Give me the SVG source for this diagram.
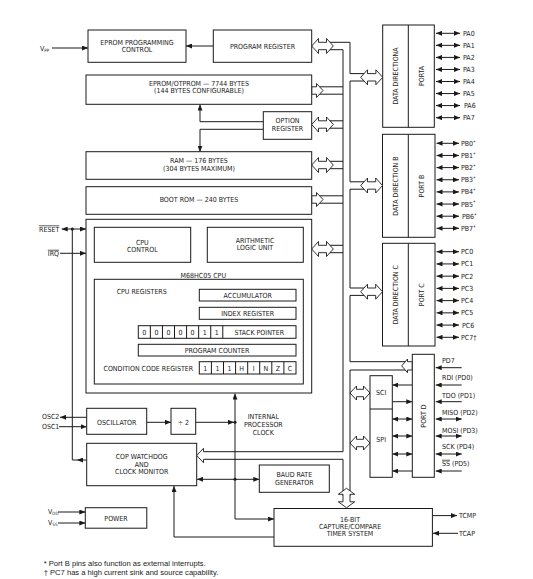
<svg xmlns="http://www.w3.org/2000/svg" width="533" height="579" viewBox="0 0 533 579">
<style>
.b{fill:#fff;stroke:#1a1a1a;stroke-width:1}
.l{fill:none;stroke:#1a1a1a;stroke-width:1}
.h{fill:#fff;stroke:#1a1a1a;stroke-width:0.9}
.d{fill:#1a1a1a}
text{font-family:"Liberation Sans Narrow","Arial Narrow","DejaVu Sans Condensed","Liberation Sans",sans-serif;font-size:7px;fill:#1a1a1a}
.c{text-anchor:middle}
.e{text-anchor:end}
.fn{font-family:"Liberation Sans",Arial,sans-serif;font-size:7.6px}
.ov{text-decoration:overline}
</style>
<defs>
<marker id="a" viewBox="0 0 6 5" refX="6" refY="2.5" markerWidth="6" markerHeight="5" markerUnits="userSpaceOnUse" orient="auto-start-reverse"><path d="M0,0 L6,2.5 L0,5 z" fill="#1a1a1a"/></marker>
</defs>
<rect x="0" y="0" width="533" height="579" fill="#fff"/>

<g id="connectors">
<g class="l" marker-end="url(#a)">
<line x1="52" y1="48" x2="88" y2="48"/>
<line x1="213.3" y1="46" x2="186" y2="46"/>
<path d="M263.3,121.7 H200 V104.5"/>
<path d="M263.3,129.3 H200 V151.7"/>
<line x1="61.7" y1="229" x2="86" y2="229" marker-start="url(#a)"/>
<line x1="60" y1="253.3" x2="86" y2="253.3"/>
<line x1="86.7" y1="417.3" x2="60" y2="417.3"/>
<line x1="59" y1="426.7" x2="86.7" y2="426.7"/>
<line x1="86.7" y1="460" x2="77" y2="460"/>
<line x1="146.7" y1="422.3" x2="171" y2="422.3"/>
<line x1="195.7" y1="422.3" x2="234" y2="422.3"/>
<path d="M274,519 H235 V393.5" marker-start="url(#a)"/>
<line x1="197" y1="479.3" x2="259.3" y2="479.3" marker-start="url(#a)"/>
<path d="M274,537 H174 V486"/>
<line x1="58" y1="512" x2="85.3" y2="512"/>
<line x1="58" y1="523" x2="85.3" y2="523"/>
<line x1="432.4" y1="515.6" x2="457" y2="515.6"/>
<line x1="458" y1="533.3" x2="433" y2="533.3"/>
</g>
<path class="l" d="M72.3,229 V460 H77"/>
<circle class="d" cx="72.3" cy="229" r="1.5"/>
<circle class="d" cx="235" cy="422.3" r="1.5"/>
<circle class="d" cx="235" cy="479.3" r="1.5"/>

<!-- port pins -->
<g class="l" marker-start="url(#a)" marker-end="url(#a)">
<line x1="436" y1="33.3" x2="460" y2="33.3"/>
<line x1="436" y1="45.35" x2="460" y2="45.35"/>
<line x1="436" y1="57.4" x2="460" y2="57.4"/>
<line x1="436" y1="69.45" x2="460" y2="69.45"/>
<line x1="436" y1="81.5" x2="460" y2="81.5"/>
<line x1="436" y1="93.55" x2="460" y2="93.55"/>
<line x1="436" y1="105.6" x2="460" y2="105.6"/>
<line x1="436" y1="117.65" x2="460" y2="117.65"/>
<line x1="436.5" y1="143.3" x2="459" y2="143.3"/>
<line x1="436.5" y1="155.45" x2="459" y2="155.45"/>
<line x1="436.5" y1="167.6" x2="459" y2="167.6"/>
<line x1="436.5" y1="179.75" x2="459" y2="179.75"/>
<line x1="436.5" y1="191.9" x2="459" y2="191.9"/>
<line x1="436.5" y1="204.05" x2="459" y2="204.05"/>
<line x1="436.5" y1="216.2" x2="459" y2="216.2"/>
<line x1="436.5" y1="228.35" x2="459" y2="228.35"/>
<line x1="436.5" y1="251.7" x2="459" y2="251.7"/>
<line x1="436.5" y1="263.93" x2="459" y2="263.93"/>
<line x1="436.5" y1="276.16" x2="459" y2="276.16"/>
<line x1="436.5" y1="288.39" x2="459" y2="288.39"/>
<line x1="436.5" y1="300.62" x2="459" y2="300.62"/>
<line x1="436.5" y1="312.85" x2="459" y2="312.85"/>
<line x1="436.5" y1="325.08" x2="459" y2="325.08"/>
<line x1="436.5" y1="337.31" x2="459" y2="337.31"/>
<line x1="435.7" y1="419" x2="461.7" y2="419"/>
<line x1="435.7" y1="436" x2="461.7" y2="436"/>
<line x1="435.7" y1="454" x2="461.7" y2="454"/>
<line x1="392.3" y1="419" x2="412.3" y2="419"/>
<line x1="392.3" y1="436" x2="412.3" y2="436"/>
<line x1="392.3" y1="454" x2="412.3" y2="454"/>
</g>
<g class="l" marker-end="url(#a)">
<line x1="461.7" y1="367.7" x2="435.7" y2="367.7"/>
<line x1="461.7" y1="385" x2="435.7" y2="385"/>
<line x1="461.7" y1="401.7" x2="435.7" y2="401.7"/>
<line x1="461.7" y1="471" x2="435.7" y2="471"/>
<line x1="412.3" y1="385" x2="392.3" y2="385"/>
<line x1="392.3" y1="401.7" x2="412.3" y2="401.7"/>
<line x1="412.3" y1="471" x2="392.3" y2="471"/>
</g>

<!-- internal bus -->
<path class="l" d="M326.5,49.7 H343 V451.7 H203 M203,459.3 H343 V496
M316,86.8 H343 M316,94.2 H343
M326,120.8 H343 M326,128.2 H343
M326,161.3 H343 M326,168.7 H343
M316,195.8 H343 M316,203.2 H343
M326,245.3 H343 M326,252.7 H343
M326.5,42.3 H350 V73.6 H368 M368,81 H350 V181.8 H368 M368,189.2 H350 V288 H368 M368,295.4 H350 V361.7 H407.5 M407.5,370 H350 V496"/>
<polygon class="h" points="311.7,46 318.5,38.5 318.5,42.3 326.5,42.3 326.5,38.5 333.3,46 326.5,53.5 326.5,49.7 318.5,49.7 318.5,53.5"/>
<polygon class="h" points="311.7,86.8 316.5,86.8 316.5,83.5 323,90.5 316.5,97.5 316.5,94.2 311.7,94.2"/>
<polygon class="h" points="311.7,124.5 318.5,117 318.5,120.8 326.5,120.8 326.5,117 333.3,124.5 326.5,132 326.5,128.2 318.5,128.2 318.5,132"/>
<polygon class="h" points="311.7,165 318.5,157.5 318.5,161.3 326.5,161.3 326.5,157.5 333.3,165 326.5,172.5 326.5,168.7 318.5,168.7 318.5,172.5"/>
<polygon class="h" points="311.7,195.8 316.5,195.8 316.5,192.5 323,199.5 316.5,206.5 316.5,203.2 311.7,203.2"/>
<polygon class="h" points="311.7,249 318.5,241.5 318.5,245.3 326.5,245.3 326.5,241.5 333.3,249 326.5,256.5 326.5,252.7 318.5,252.7 318.5,256.5"/>
<polygon class="h" points="360.7,77.3 367.5,69.8 367.5,73.6 375.9,73.6 375.9,69.8 382.7,77.3 375.9,84.8 375.9,81 367.5,81 367.5,84.8"/>
<polygon class="h" points="360.7,185.5 367.5,178 367.5,181.8 375.7,181.8 375.7,178 382.5,185.5 375.7,193 375.7,189.2 367.5,189.2 367.5,193"/>
<polygon class="h" points="360.7,291.7 367.5,284.2 367.5,288 375.7,288 375.7,284.2 382.5,291.7 375.7,299.2 375.7,295.4 367.5,295.4 367.5,299.2"/>
<polygon class="h" points="350,393 356.5,386 356.5,389.3 363.5,389.3 363.5,386 370,393 363.5,400 363.5,396.7 356.5,396.7 356.5,400"/>
<polygon class="h" points="350,443 356.5,436 356.5,439.3 363.5,439.3 363.5,436 370,443 363.5,450 363.5,446.7 356.5,446.7 356.5,450"/>
<polygon class="h" points="412.3,361.7 407.5,361.7 407.5,359 401.7,365.85 407.5,372.7 407.5,370 412.3,370"/>
<polyline class="h" points="203.5,451.7 203.5,448.3 196.7,455.5 203.5,462.7 203.5,459.3"/>
<polygon class="h" points="346.5,488.3 354.7,494.3 350,494.3 350,501.8 354.7,501.8 346.5,507.8 338.3,501.8 343,501.8 343,494.3 338.3,494.3"/>
</g>

<g id="pins">
<text x="40" y="50.5">V<tspan font-size="4.5" dy="1.2">PP</tspan></text>
<text x="59.3" y="231.5" class="e"><tspan class="ov">RESET</tspan></text>
<text x="59" y="255.8" class="e"><tspan class="ov">IRQ</tspan></text>
<text x="59.3" y="418.5" class="e">OSC2</text>
<text x="59.3" y="429" class="e">OSC1</text>
<text x="48" y="514">V<tspan font-size="4.5" dy="1.2">DD</tspan></text>
<text x="48" y="525">V<tspan font-size="4.5" dy="1.2">SS</tspan></text>
<text x="459" y="518">TCMP</text>
<text x="459" y="535.8">TCAP</text>
<text x="463" y="35.8">PA0</text>
<text x="463" y="47.85">PA1</text>
<text x="463" y="59.9">PA2</text>
<text x="463" y="71.95">PA3</text>
<text x="463" y="84">PA4</text>
<text x="463" y="96.05">PA5</text>
<text x="464" y="108.1">PA6</text>
<text x="463" y="120.15">PA7</text>
<text x="461" y="145.8">PB0<tspan font-size="5" dy="-2.2">*</tspan></text>
<text x="461" y="157.95">PB1<tspan font-size="5" dy="-2.2">*</tspan></text>
<text x="461" y="170.1">PB2<tspan font-size="5" dy="-2.2">*</tspan></text>
<text x="461" y="182.25">PB3<tspan font-size="5" dy="-2.2">*</tspan></text>
<text x="461" y="194.4">PB4<tspan font-size="5" dy="-2.2">*</tspan></text>
<text x="461" y="206.55">PB5<tspan font-size="5" dy="-2.2">*</tspan></text>
<text x="462" y="218.7">PB6<tspan font-size="5" dy="-2.2">*</tspan></text>
<text x="461" y="230.85">PB7<tspan font-size="5" dy="-2.2">*</tspan></text>
<text x="461" y="254.2">PC0</text>
<text x="461" y="266.43">PC1</text>
<text x="461" y="278.66">PC2</text>
<text x="461" y="290.89">PC3</text>
<text x="461" y="303.12">PC4</text>
<text x="461" y="315.35">PC5</text>
<text x="462" y="327.58">PC6</text>
<text x="461" y="339.81">PC7†</text>
<text x="442" y="362.5">PD7</text>
<text x="442" y="380.2">RDI (PD0)</text>
<text x="442" y="397.5">TDO (PD1)</text>
<text x="442" y="415.2">MISO (PD2)</text>
<text x="442" y="432.5">MOSI (PD3)</text>
<text x="442" y="449.2">SCK (PD4)</text>
<text x="442" y="465.8"><tspan class="ov">SS</tspan> (PD5)</text>
</g>

<g id="eprom-prog-control"><rect class="b" x="88" y="30" width="98" height="32.3"/>
<text class="c" x="137" y="45.2">EPROM PROGRAMMING</text><text class="c" x="137" y="51.8">CONTROL</text></g>
<g id="program-register"><rect class="b" x="213.3" y="30" width="98.4" height="32.3"/>
<text class="c" x="262.5" y="48.5">PROGRAM REGISTER</text></g>
<g id="eprom"><rect class="b" x="86" y="75" width="225.7" height="29.3"/>
<text class="c" x="199" y="85.8">EPROM/OTPROM — 7744 BYTES</text><text class="c" x="199" y="93.2">(144 BYTES CONFIGURABLE)</text></g>
<g id="option-register"><rect class="b" x="263.3" y="111.7" width="48.4" height="27.6"/>
<text class="c" x="287.5" y="122.5">OPTION</text><text class="c" x="287.5" y="130.8">REGISTER</text></g>
<g id="ram"><rect class="b" x="86" y="151.7" width="225.7" height="27.6"/>
<text class="c" x="199" y="163.2">RAM — 176 BYTES</text><text class="c" x="199" y="170.8">(304 BYTES MAXIMUM)</text></g>
<g id="boot-rom"><rect class="b" x="86" y="186.7" width="225.7" height="27.6"/>
<text class="c" x="199" y="201.8">BOOT ROM — 240 BYTES</text></g>

<g id="cpu"><rect class="b" x="86" y="219.3" width="225.7" height="173.7"/>
<rect class="b" x="94.3" y="227.3" width="96.4" height="35"/>
<text class="c" x="142.3" y="244.8">CPU</text><text class="c" x="142.3" y="251.8">CONTROL</text>
<rect class="b" x="207.3" y="227.3" width="96" height="35"/>
<text class="c" x="255" y="242.5">ARITHMETIC</text><text class="c" x="255" y="250.2">LOGIC UNIT</text>
<text class="c" x="203.3" y="277.5">M68HC05 CPU</text>
<rect class="b" x="94.3" y="279.3" width="209" height="104.7"/>
<text class="c" x="141.7" y="294.2">CPU REGISTERS</text>
<rect class="b" x="199.3" y="289.3" width="96.7" height="11.7"/>
<text class="c" x="247.7" y="297.7">ACCUMULATOR</text>
<rect class="b" x="199.3" y="307.3" width="96.7" height="12"/>
<text class="c" x="247.7" y="315.8">INDEX REGISTER</text>
<rect class="b" x="138.3" y="325.7" width="157.7" height="12.6"/>
<path class="l" d="M150.37,325.7 V338.3 M162.44,325.7 V338.3 M174.51,325.7 V338.3 M186.58,325.7 V338.3 M198.65,325.7 V338.3 M210.72,325.7 V338.3 M222.79,325.7 V338.3"/>
<text class="c" x="144.3" y="334.5">0</text><text class="c" x="156.4" y="334.5">0</text><text class="c" x="168.5" y="334.5">0</text><text class="c" x="180.5" y="334.5">0</text><text class="c" x="192.6" y="334.5">0</text><text class="c" x="204.7" y="334.5">1</text><text class="c" x="216.8" y="334.5">1</text>
<text class="c" x="259.3" y="334.5">STACK POINTER</text>
<rect class="b" x="138.3" y="344.3" width="157.7" height="11.7"/>
<text class="c" x="217" y="352.7">PROGRAM COUNTER</text>
<text class="c" x="148.3" y="370.5">CONDITION CODE REGISTER</text>
<rect class="b" x="199.3" y="361.7" width="96.7" height="12.3"/>
<path class="l" d="M211.4,361.7 V374 M223.5,361.7 V374 M235.6,361.7 V374 M247.7,361.7 V374 M259.7,361.7 V374 M271.8,361.7 V374 M283.9,361.7 V374"/>
<text class="c" x="205.3" y="370.5">1</text><text class="c" x="217.4" y="370.5">1</text><text class="c" x="229.5" y="370.5">1</text><text class="c" x="241.6" y="370.5">H</text><text class="c" x="253.7" y="370.5">I</text><text class="c" x="265.8" y="370.5">N</text><text class="c" x="277.9" y="370.5">Z</text><text class="c" x="290" y="370.5">C</text>
</g>

<g id="port-a"><rect class="b" x="382.7" y="25" width="51.6" height="102.3"/><line class="l" x1="408.3" y1="25" x2="408.3" y2="127.3"/>
<text class="c" transform="translate(395.5,76) rotate(-90)" y="2.5">DATA DIRECTIONA</text>
<text class="c" transform="translate(421.5,76) rotate(-90)" y="2.5">PORTA</text></g>
<g id="port-b"><rect class="b" x="382.5" y="134.3" width="52.5" height="103"/><line class="l" x1="408.3" y1="134.3" x2="408.3" y2="237.3"/>
<text class="c" transform="translate(395.5,186) rotate(-90)" y="2.5">DATA DIRECTION B</text>
<text class="c" transform="translate(421.7,186) rotate(-90)" y="2.5">PORT B</text></g>
<g id="port-c"><rect class="b" x="382.5" y="243.3" width="52.5" height="102.7"/><line class="l" x1="408.3" y1="243.3" x2="408.3" y2="346"/>
<text class="c" transform="translate(395.5,294.7) rotate(-90)" y="2.5">DATA DIRECTION C</text>
<text class="c" transform="translate(421.7,294.7) rotate(-90)" y="2.5">PORT C</text></g>
<g id="port-d"><rect class="b" x="412.3" y="354.3" width="22" height="123"/>
<text class="c" transform="translate(423.3,416) rotate(-90)" y="2.5">PORT D</text></g>
<g id="sci-spi"><rect class="b" x="370" y="375.7" width="22.3" height="101.6"/><line class="l" x1="370" y1="409" x2="392.3" y2="409"/>
<text class="c" x="381.2" y="395.2">SCI</text><text class="c" x="381.2" y="441.8">SPI</text></g>

<g id="oscillator"><rect class="b" x="86.7" y="408.3" width="60" height="26"/>
<text class="c" x="116.7" y="424.8">OSCILLATOR</text></g>
<g id="divide-by-2"><rect class="b" x="171" y="408.3" width="24.7" height="26"/>
<text class="c" x="183.3" y="424.8">÷ 2</text></g>
<g id="internal-clock-label"><text class="c" x="263.3" y="418.5">INTERNAL</text><text class="c" x="263.3" y="426.5">PROCESSOR</text><text class="c" x="263.3" y="434.8">CLOCK</text></g>
<g id="cop"><rect class="b" x="86.7" y="443.3" width="110" height="42.4"/>
<text class="c" x="141.7" y="459.2">COP WATCHDOG</text><text class="c" x="141.7" y="466.5">AND</text><text class="c" x="141.7" y="474.2">CLOCK MONITOR</text></g>
<g id="baud-rate"><rect class="b" x="259.3" y="465" width="70" height="27.3"/>
<text class="c" x="294.3" y="476.5">BAUD RATE</text><text class="c" x="294.3" y="484.8">GENERATOR</text></g>
<g id="power"><rect class="b" x="85.3" y="507.7" width="61.5" height="20.5"/>
<text class="c" x="116" y="520.5">POWER</text></g>
<g id="timer"><rect class="b" x="274" y="508.5" width="158.4" height="37.8"/>
<text class="c" x="350" y="521.5">16-BIT</text><text class="c" x="350" y="528.7">CAPTURE/COMPARE</text><text class="c" x="350" y="536.2">TIMER SYSTEM</text></g>

<g id="footnotes">
<text class="fn" x="43.7" y="565.5">* Port B pins also function as external interrupts.</text>
<text class="fn" x="43.7" y="574.8">† PC7 has a high current sink and source capability.</text>
</g>
</svg>
